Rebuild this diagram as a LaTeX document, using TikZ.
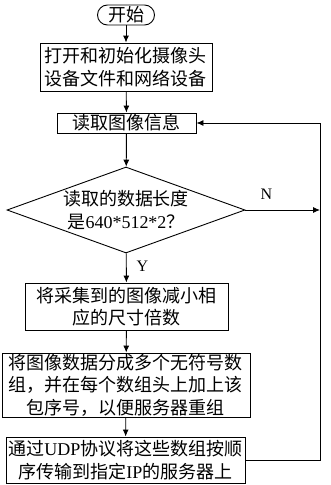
\documentclass[tikz,border=0pt]{standalone}
\usepackage{fontspec}
\setmainfont{Liberation Serif}
\newfontfamily\cjk{Noto Sans CJK SC}
\newfontfamily\latinserif{Liberation Serif}
\newcommand{\LatinTxt}[1]{{\latinserif #1}}
\usetikzlibrary{shapes.geometric,arrows.meta}
\begin{document}
\begin{tikzpicture}[x=1pt,y=-1pt,
  every node/.style={font=\cjk\fontsize{18}{22.5}\selectfont, inner sep=0pt, align=center},
  procbox/.style={draw, line width=0.9pt, rectangle},
  termbox/.style={draw, line width=0.9pt, rounded corners=10pt},
  decbox/.style={draw, line width=0.9pt, diamond, aspect=2.77},
  flow/.style={line width=0.9pt, -{Latex[length=7pt,width=6pt]}},
  plain/.style={line width=0.9pt},
  lbl/.style={font=\latinserif\fontsize{16}{18}\selectfont}]
\useasboundingbox (0,0) rectangle (330,485);
\fill[white] (0,0) rectangle (330,485);

\node[termbox, minimum width=57pt, minimum height=20pt] (start) at (126,15) {开始};
\node[procbox, minimum width=172pt, minimum height=48pt] (b1) at (126,67) {打开和初始化摄像头\\设备文件和网络设备};
\node[procbox, minimum width=139pt, minimum height=20pt] (b2) at (126.5,123) {读取图像信息};
\node[decbox, minimum width=238pt, minimum height=86pt] (d) at (126,210) {};
\node at (126,210) {读取的数据长度\\是\LatinTxt{640*512*2}？};
\node[procbox, minimum width=203pt, minimum height=47pt] (b3) at (126.5,306.5) {将采集到的图像减小相\\应的尺寸倍数};
\node[procbox, minimum width=248pt, minimum height=64pt] (b4) at (126,385) {将图像数据分成多个无符号数\\组，并在每个数组头上加上该\\包序号，以便服务器重组};
\node[procbox, minimum width=239pt, minimum height=46pt] (b5) at (125.5,460) {通过\LatinTxt{UDP}协议将这些数组按顺\\序传输到指定\LatinTxt{IP}的服务器上};

\coordinate (rn) at (320,210);
\coordinate (rb) at (320,460);
\coordinate (rt) at (320,123);

\draw[flow] (start) -- (b1);
\draw[flow] (b1) -- (b2);
\draw[flow] (b2) -- (d);
\draw[flow] (d) -- node[lbl, pos=0.45, right=10pt] (ylab) {Y} (b3);
\draw[flow] (d.east) -- node[lbl, pos=0.28, above=10pt] (nlab) {N} (rn);
\draw[flow] (b3) -- (b4);
\draw[flow] (b4) -- (b5);
\draw[flow] (b5.east) -- (rb) -- (rt) -- (b2.east);
\end{tikzpicture}
\end{document}
